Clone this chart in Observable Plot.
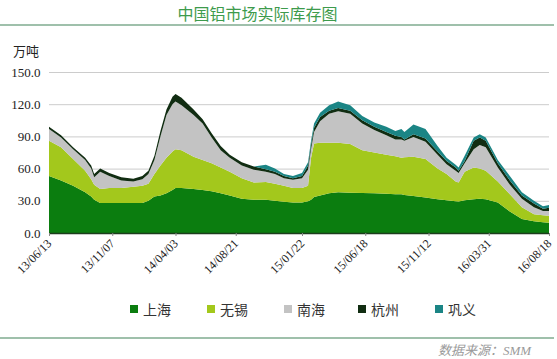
<!DOCTYPE html>
<html>
<head>
<meta charset="utf-8">
<script src="https://cdn.jsdelivr.net/npm/d3@7"></script>
<script src="https://cdn.jsdelivr.net/npm/@observablehq/plot@0.6"></script>
<style>
  html, body { margin: 0; padding: 0; background: #fff; }
  #wrap { position: relative; width: 557px; height: 359px; overflow: hidden; background: #fff; }
  #wrap > * { position: absolute; }
  .title { left: 0; width: 515px; text-align: center; top: 4px; font: 16px "Noto Sans CJK SC", sans-serif; color: #3d9b4c; line-height: 18px; }
  .hline { left: 0; width: 554px; height: 2px; background: #9fc0ab; }
  .unit { left: 13px; top: 43px; font: 13px "Noto Sans CJK SC", sans-serif; color: #222; line-height: 16px; }
  .chart { left: 0; top: 0; }
  .chart svg text { font-family: "Liberation Serif", serif; }
  .leg { top: 301px; font: 14px "Noto Sans CJK SC", sans-serif; color: #333; line-height: 16px; display: flex; align-items: center; }
  .leg i { display: inline-block; width: 8px; height: 8px; margin-right: 5px; }
  .cap { left: 438px; top: 343px; font: italic 13px "Liberation Serif", "Noto Sans CJK SC", serif; color: #9a9a9a; line-height: 16px; }
</style>
</head>
<body>
<div id="wrap">
  <div class="title">中国铝市场实际库存图</div>
  <div class="hline" style="top:24px"></div>
  <div class="unit">万吨</div>
  <div class="chart" id="chart"></div>
  <div class="hline" style="top:337px"></div>
  <div class="cap">数据来源：SMM</div>
</div>
<script>
const seriesNames = ["上海", "无锡", "南海", "杭州", "巩义"];
const seriesColors = ["#0b7d0f", "#a3c81c", "#c3c3c3", "#112d12", "#1b8585"];

const dates = ["2013-06-13","2013-07-11","2013-08-08","2013-09-05","2013-09-19","2013-09-26","2013-10-10","2013-10-31","2013-11-28","2013-12-26",
"2014-01-16","2014-01-30","2014-02-13","2014-02-27","2014-03-13","2014-03-27","2014-04-03","2014-04-17","2014-05-15","2014-06-05",
"2014-06-26","2014-07-17","2014-08-07","2014-09-04","2014-10-02","2014-10-30","2014-11-20","2014-12-11","2015-01-01","2015-01-22",
"2015-02-05","2015-02-12","2015-02-19","2015-03-05","2015-03-26","2015-04-16","2015-05-14","2015-06-11","2015-07-09","2015-08-06",
"2015-08-27","2015-09-10","2015-09-17","2015-10-08","2015-11-05","2015-12-03","2015-12-24","2016-01-14","2016-01-21","2016-02-04",
"2016-02-25","2016-03-10","2016-03-24","2016-04-21","2016-05-19","2016-06-16","2016-07-14","2016-08-04","2016-08-18"];

const shanghai = [53,49,44,38,34,31,28,28,28,28, 28,30,34,35,37,40,42,42,41,40, 39,37,35,32,31,31,30,29,28.5,28.5, 29.5,31,33.5,35,37,38,37.5,37.3,37,36.5, 36,36,35.5,34.5,33,31.5,30.5,29.5,29.4,30.5, 31.5,32,31.5,28.5,20,13,11,10,9.5];
const wuxi = [33,31,25,20,16,14,13,14,14,15, 16,16,21,28,33,36,36,35,30,28, 26,24,22,19,16,16.5,16,15,13.5,13.5, 14.5,39,50,49,47,46,45.5,39.7,38,36.5, 35.5,34,35,36.5,36,28.5,24.5,18.5,17.6,26.5, 29.5,28,26.5,19.5,16,11,6.5,6.5,6.5];
const nanhai = [11,9,9,10,10,7,16,11,7,5, 6,9,13,27,40,44,44.5,42,39,34, 24,16,13,12,12,9.5,9,7,7.5,9, 15,8,10.5,20,27,29.5,28,25,21,18, 15.5,17,15.5,18.5,16,13,9,10,9,8, 17,22,22,13,9,8,6.5,4,4.5];
const hangzhou = [2,2,2,2,3,3,3,3,3,2.5, 3,3,4,5,5,7,7,7,5,4, 4,4,3,3,3,2.5,2,2,1.5,2, 4,4,4,4,3,3,3,3,3,3, 3.5,2.5,1,2.5,3,3,3,3,2,2, 8,7,6,4,4,3,3.5,2,3];
const gongyi = [0,0,0,0,0,0,0,0,0,0, 0,0,0,0,0,0,0,0,0,0, 0,0,0,0,0,4,3,2,2,3, 3,4,4,4,5,6,5,4,4,5, 4.5,7.5,7,9,9,5,3,2.5,3,5, 3,3,3,3,4,3,2.5,2.5,2.5];

const xTickLabels = ["2013-06-13","2013-11-07","2014-04-03","2014-08-21","2015-01-22","2015-06-18","2015-11-12","2016-03-31","2016-08-18"];
const yTicks = [0, 30, 60, 90, 120, 150];

const seriesValues = [shanghai, wuxi, nanhai, hangzhou, gongyi];
const rows = [];
seriesNames.forEach((name, s) => {
  dates.forEach((d, i) => rows.push({date: new Date(d), series: name, value: seriesValues[s][i]}));
});
const tickDates = xTickLabels.map(d => new Date(d));
const fmt = d3.utcFormat("%y/%m/%d");

const chart = Plot.plot({
  width: 557,
  height: 300,
  marginLeft: 49,
  marginRight: 8,
  marginTop: 72,
  marginBottom: 67,
  style: {fontFamily: "Liberation Serif, serif", color: "#222", background: "transparent", overflow: "visible"},
  x: {type: "utc", domain: [new Date(dates[0]), new Date(dates[dates.length - 1])]},
  y: {domain: [0, 150]},
  color: {domain: seriesNames, range: seriesColors},
  marks: [
    Plot.gridY(yTicks, {stroke: "#cccccc", strokeOpacity: 1, strokeWidth: 1}),
    Plot.areaY(rows, {x: "date", y: "value", fill: "series", order: seriesNames}),
    Plot.ruleY([0], {stroke: "#1d3d1d", strokeWidth: 1.5}),
    Plot.axisY(yTicks, {tickFormat: d => d.toFixed(1), tickSize: 0, tickPadding: 9, fontSize: 13, fontFamily: "Liberation Serif", label: null}),
    Plot.axisX(tickDates, {tickFormat: fmt, tickRotate: -45, tickSize: 3, tickPadding: 5, fontSize: 12, fontFamily: "Liberation Serif", label: null, stroke: "#888"})
  ]
});
document.getElementById("chart").appendChild(chart);

const wrap = document.getElementById("wrap");
const legX = [130, 207, 284, 358, 435];
seriesNames.forEach((name, i) => {
  const el = document.createElement("div");
  el.className = "leg";
  el.style.left = legX[i] + "px";
  el.innerHTML = `<i style="background:${seriesColors[i]}"></i>${name}`;
  wrap.appendChild(el);
});
</script>
</body>
</html>
